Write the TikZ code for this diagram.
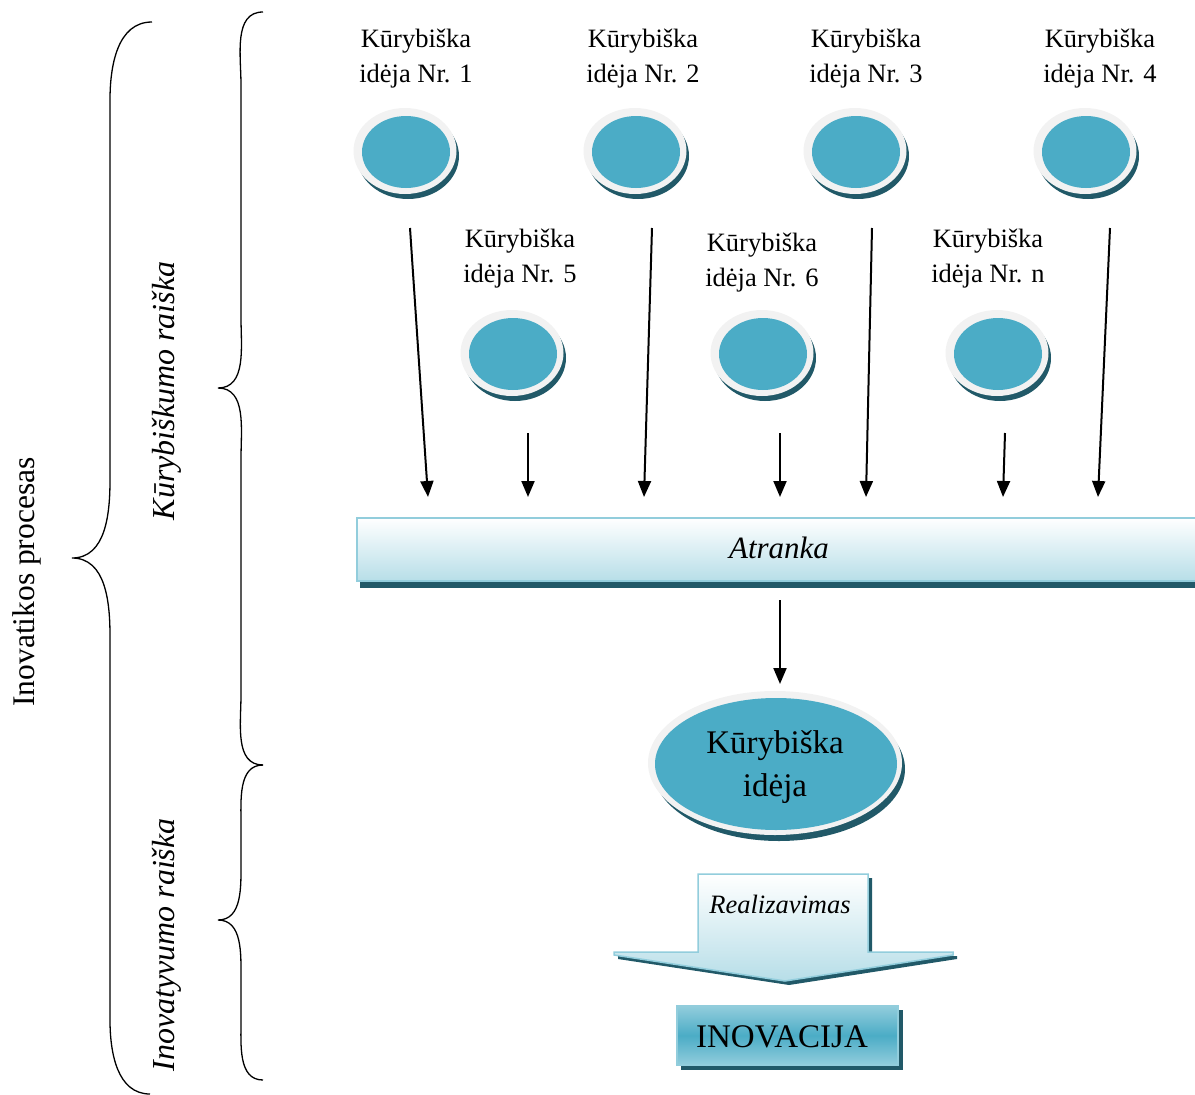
\documentclass[tikz,border=0pt]{standalone}
\usepackage{fontspec}
\setmainfont{Liberation Serif}
\usetikzlibrary{arrows.meta,shadings}
\definecolor{ideablue}{HTML}{4BACC6}
\definecolor{ringgray}{HTML}{F2F2F2}
\definecolor{deepteal}{HTML}{215968}
\definecolor{paleborder}{HTML}{92CDDC}
\definecolor{palefill}{HTML}{B7DEE8}
\tikzset{
  lbl/.style={align=center,font=\fontsize{26.5}{35}\selectfont,inner sep=0pt},
  flow/.style={line width=2pt,-{Triangle[width=13pt,length=16pt]}},
  brace/.style={line width=1.3pt},
}
% small idea disc: shadow, light ring, blue core
\newcommand{\ideadisc}[3]{%
  \fill[deepteal] (#1+3,#2+5) ellipse [x radius=51,y radius=43];
  \fill[ringgray] (#1,#2) ellipse [x radius=51.5,y radius=43];
  \fill[ideablue] (#1+1,#2+1) ellipse [x radius=44,y radius=36];
  \coordinate (#3) at (#1,#2);
}
\begin{document}
\begin{tikzpicture}[x=1pt,y=-1pt]
\useasboundingbox (0,0) rectangle (1195,1095);
\clip (0,0) rectangle (1195,1095);

% braces
\draw[brace] (152,22) to[out=180,in=90] (110,100) -- (110,480)
  to[out=270,in=0] (72,558) to[out=0,in=90] (110,636) -- (110,1020)
  to[out=270,in=180] (150,1094);
\draw[brace] (263,12) to[out=180,in=90] (241,85) -- (241,318)
  to[out=270,in=0] (218,388) to[out=0,in=90] (241,458) -- (241,695)
  to[out=270,in=180] (263,765);
\draw[brace] (263,765) to[out=180,in=90] (241,825) -- (241,862)
  to[out=270,in=0] (218,920) to[out=0,in=90] (241,978) -- (241,1020)
  to[out=270,in=180] (263,1080);

\node[rotate=90,inner sep=0pt,font=\fontsize{31.5}{36}\selectfont] (proc) at (27,582) {Inovatikos procesas};
\node[rotate=90,inner sep=0pt,font=\fontsize{32}{36}\selectfont\itshape] (kur) at (167,391) {Kūrybiškumo raiška};
\node[rotate=90,inner sep=0pt,font=\fontsize{32}{36}\selectfont\itshape] (inov) at (167,945) {Inovatyvumo raiška};

% idea labels
\node[lbl] (l1) at (416,59) {Kūrybiška\\idėja Nr. 1};
\node[lbl] (l2) at (643,59) {Kūrybiška\\idėja Nr. 2};
\node[lbl] (l3) at (866,59) {Kūrybiška\\idėja Nr. 3};
\node[lbl] (l4) at (1100,59) {Kūrybiška\\idėja Nr. 4};
\node[lbl] (l5) at (520,259) {Kūrybiška\\idėja Nr. 5};
\node[lbl] (l6) at (762,263) {Kūrybiška\\idėja Nr. 6};
\node[lbl] (ln) at (988,259) {Kūrybiška\\idėja Nr. n};

% idea discs
\ideadisc{405}{151}{d1}
\ideadisc{635}{151}{d2}
\ideadisc{855}{151}{d3}
\ideadisc{1085}{151}{d4}
\ideadisc{512}{353}{d5}
\ideadisc{762}{353}{d6}
\ideadisc{997}{353}{dn}

% selection bar
\fill[deepteal] (360,580) rectangle (1200,588);
\shade[top color=white,bottom color=palefill,draw=paleborder,line width=2pt]
  (357,518) rectangle (1200,581);
\node[inner sep=0pt,font=\fontsize{31}{36}\selectfont\itshape] (atr) at (779,548) {Atranka};

% arrows into the bar
\coordinate (a1s) at (410,228); \coordinate (a1e) at (428,497);
\coordinate (a5s) at (528,433); \coordinate (a5e) at (528,497);
\coordinate (a2s) at (652,228); \coordinate (a2e) at (644,497);
\coordinate (a6s) at (780,433); \coordinate (a6e) at (780,497);
\coordinate (a3s) at (872,228); \coordinate (a3e) at (866,497);
\coordinate (ans) at (1005,433); \coordinate (ane) at (1003,497);
\coordinate (a4s) at (1110,228); \coordinate (a4e) at (1098,497);
\foreach \p in {a1,a5,a2,a6,a3,an,a4} \draw[flow] (\p s) -- (\p e);

% chosen idea
\fill[deepteal] (779,769) ellipse [x radius=126,y radius=72];
\fill[ringgray] (775,763) ellipse [x radius=127,y radius=72];
\fill[ideablue] (776,764) ellipse [x radius=121,y radius=66];
\node[inner sep=0pt,align=center,font=\fontsize{33}{43}\selectfont] (best) at (775,767) {Kūrybiška\\idėja};
\coordinate (bs) at (780,600);
\coordinate (be) at (780,684);
\draw[flow] (bs) -- (be);

% realisation arrow
\fill[deepteal,shift={(4,4)}] (698,874) -- (868,874) -- (868,952) -- (953,952)
  -- (953,955) -- (785,981) -- (614,955) -- (614,952) -- (698,952) -- cycle;
\shade[top color=white,bottom color=palefill,draw=paleborder,line width=1.5pt]
  (698,874) -- (868,874) -- (868,952) -- (953,952)
  -- (953,955) -- (785,981) -- (614,955) -- (614,952) -- (698,952) -- cycle;
\node[inner sep=0pt,font=\fontsize{26.5}{30}\selectfont\itshape] (real) at (780,904) {Realizavimas};

% innovation box
\fill[deepteal] (681,1010) rectangle (903,1070);
\shade[top color=paleborder,bottom color=paleborder,middle color=ideablue,draw=paleborder,line width=1.5pt]
  (677,1006) rectangle (898,1065);
\node[inner sep=0pt,font=\fontsize{33}{36}\selectfont] (inn) at (782,1037) {INOVACIJA};
\end{tikzpicture}
\end{document}
